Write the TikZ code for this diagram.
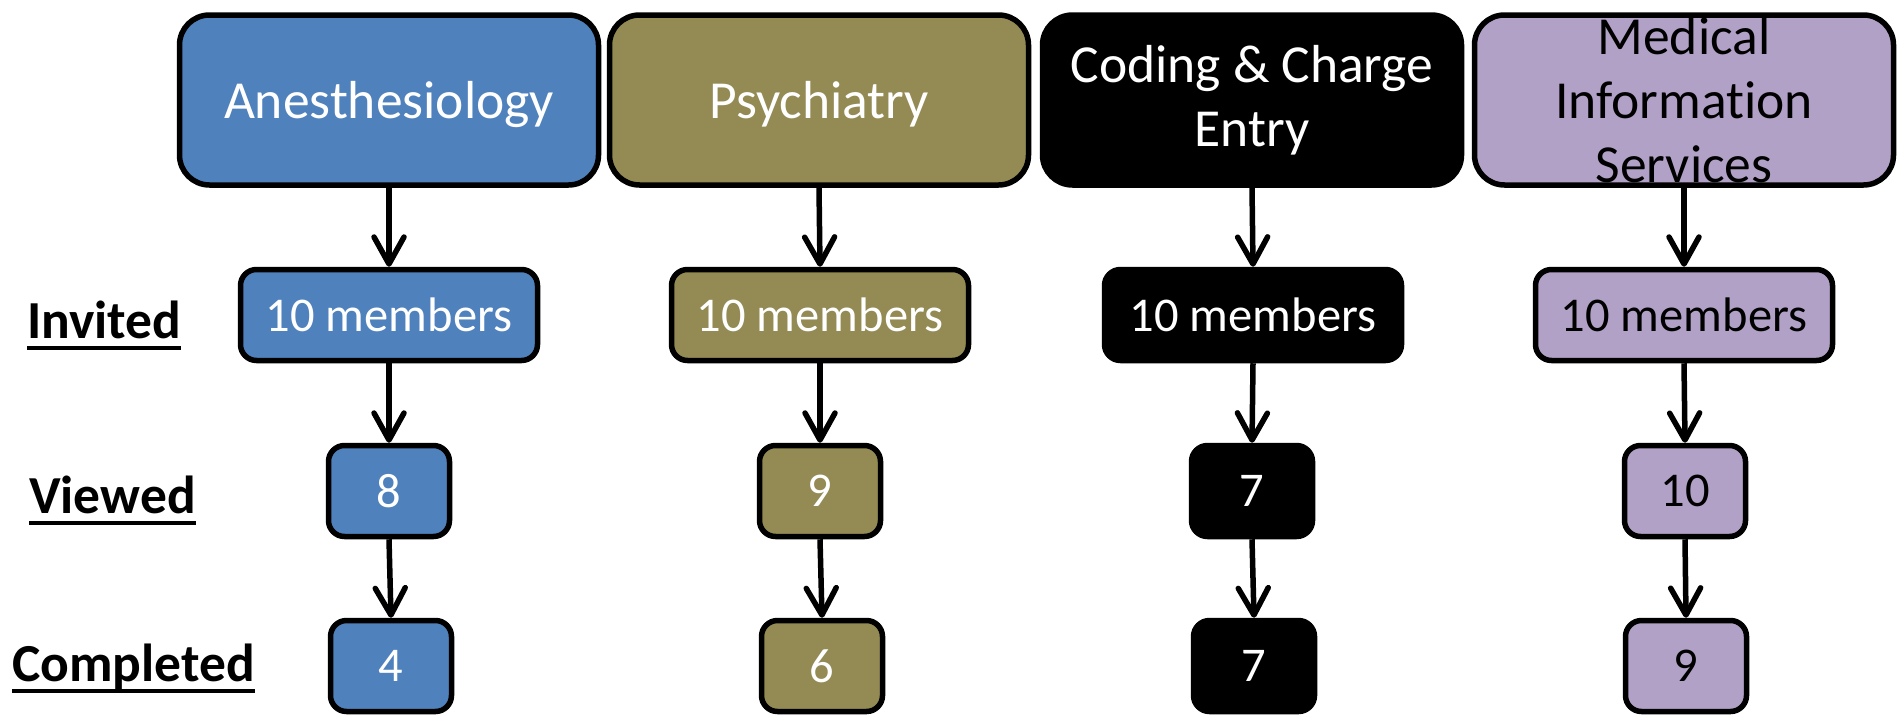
\documentclass[tikz,border=0pt]{standalone}
\usepackage{fontspec}
\setmainfont{Carlito}[Ligatures=NoCommon]
\usetikzlibrary{arrows.meta}

\definecolor{anblue}{HTML}{4F81BD}
\definecolor{psyolive}{HTML}{948A54}
\definecolor{mislav}{HTML}{B2A1C7}

% underlined row caption with a fixed rule position
\newcommand\ulabel[1]{\setbox0\hbox{#1}\leavevmode\rlap{\copy0}\rule[-12pt]{\wd0}{4pt}}

\tikzset{
  box/.style={draw=black, line width=5.5pt, rounded corners=16pt, inner sep=0pt, align=center},
  head/.style={box, minimum width=419pt, minimum height=170pt, rounded corners=30pt,
    font=\fontsize{53.5}{64}\selectfont},
  oneline/.style={text depth=0pt},
  invbox/.style={box, minimum width=297pt, minimum height=91pt, font=\fontsize{48.5}{58}\selectfont},
  numbox/.style={box, minimum width=121pt, minimum height=91pt, font=\fontsize{48.5}{58}\selectfont},
  flow/.style={line width=5.5pt, -{Straight Barb[length=27pt,width=30pt,round]}},
  rowlabel/.style={anchor=base west, inner sep=0pt, font=\fontsize{53.5}{64}\selectfont\bfseries},
  blue/.style={fill=anblue, text=white},
  olive/.style={fill=psyolive, text=white},
  dark/.style={fill=black, text=white},
  lav/.style={fill=mislav, text=black},
}

\begin{document}
\begin{tikzpicture}[x=1pt, y=-1pt]
  \useasboundingbox (0,0) rectangle (1902,715);

  % department headers
  \node[head, blue, oneline]  (h1) at (389,100) {Anesthesiology};
  \node[head, olive, oneline] (h2) at (819,100) {Psychiatry};
  \node[head, dark]  (h3) at (1252,100) {Coding \& Charge\\Entry};
  \node[head, lav]   (h4) at (1684,100) {Medical\\Information\\Services};

  % invited
  \node[invbox, blue]  (i1) at (389,315) {10 members};
  \node[invbox, olive] (i2) at (820,315) {10 members};
  \node[invbox, dark]  (i3) at (1253,315) {10 members};
  \node[invbox, lav]   (i4) at (1684,315) {10 members};

  % viewed
  \node[numbox, blue]  (v1) at (389,491) {8};
  \node[numbox, olive] (v2) at (820,491) {9};
  \node[numbox, dark]  (v3) at (1252,491) {7};
  \node[numbox, lav]   (v4) at (1685,491) {10};

  % completed
  \node[numbox, blue]  (c1) at (391,666) {4};
  \node[numbox, olive] (c2) at (822,666) {6};
  \node[numbox, dark]  (c3) at (1254,666) {7};
  \node[numbox, lav]   (c4) at (1686,666) {9};

  % row captions
  \node[rowlabel] (lInv)  at (27,338) {\ulabel{Invited}};
  \node[rowlabel] (lView) at (29,513) {\ulabel{Viewed}};
  \node[rowlabel] (lComp) at (12,681) {\ulabel{Completed}};

  % flows
  \foreach \k in {1,2,3,4} {
    \draw[flow] (h\k.south) -- (i\k.north);
    \draw[flow] (i\k.south) -- (v\k.north);
    \draw[flow] (v\k.south) -- (c\k.north);
  }
\end{tikzpicture}
\end{document}
